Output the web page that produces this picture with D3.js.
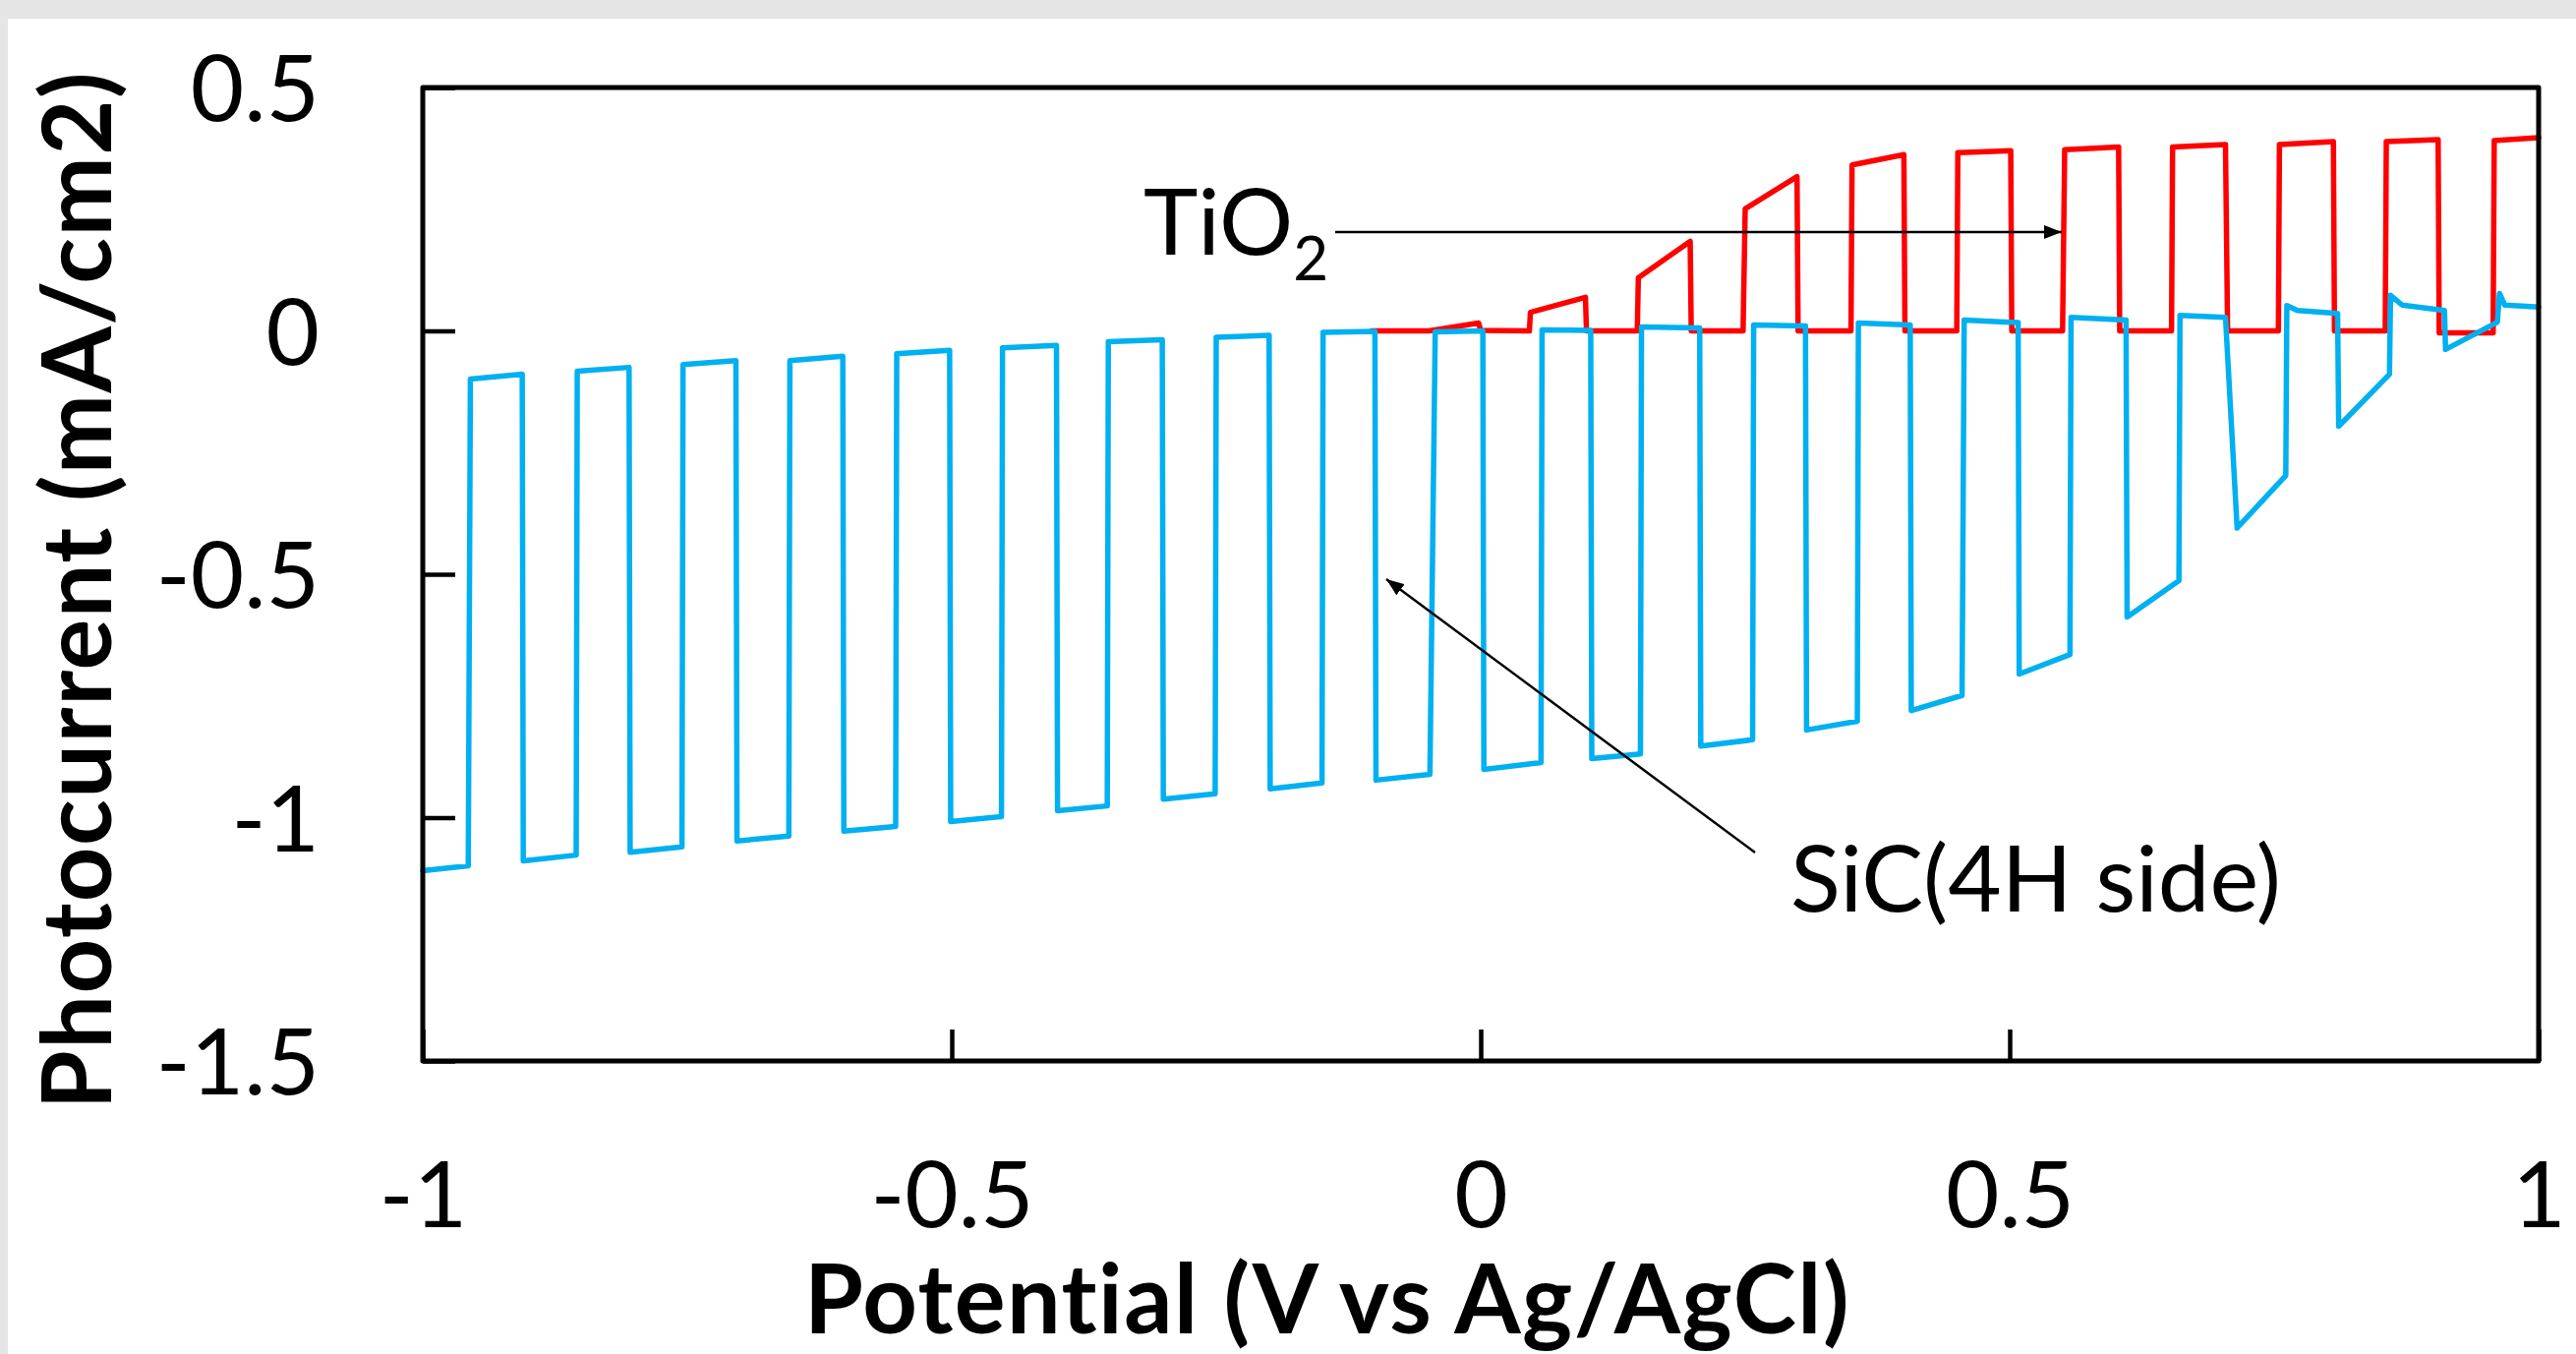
<!DOCTYPE html>
<html>
<head>
  <title>Photocurrent vs Potential</title>
  <script src="https://d3js.org/d3.v7.min.js"></script>
  <style>
    body { margin: 0; background: #e5e5e5; }
    svg { display: block; }
  </style>
</head>
<body>
  <div id="chart"></div>

  <script>
    // axis ticks
    const xTicks = [-1, -0.5, 0, 0.5, 1];
    const xTickLabels = ['-1', '-0.5', '0', '0.5', '1'];
    const yTicks = [0.5, 0, -0.5, -1, -1.5];
    const yTickLabels = ['0.5', '0', '-0.5', '-1', '-1.5'];

    // TiO2 trace (potential in V, current in mA/cm2)
    const tio2V = [-0.103, -0.049, -0.002, 0.000, 0.046, 0.047, 0.099, 0.100, 0.148, 0.149, 0.198, 0.199,
      0.248, 0.250, 0.299, 0.300, 0.350, 0.351, 0.400, 0.401, 0.450, 0.451, 0.501, 0.502, 0.550, 0.552,
      0.603, 0.604, 0.653, 0.654, 0.704, 0.706, 0.754, 0.755, 0.806, 0.807, 0.855, 0.856, 0.905, 0.906,
      0.957, 0.958, 1.000];
    const tio2J = [0.000, 0.000, 0.016, 0.001, 0.000, 0.038, 0.069, 0.000, 0.000, 0.109, 0.184, 0.000,
      0.000, 0.251, 0.317, 0.000, 0.000, 0.341, 0.362, 0.000, 0.000, 0.366, 0.370, 0.000, 0.000, 0.372,
      0.378, 0.000, 0.000, 0.378, 0.383, 0.000, 0.000, 0.383, 0.389, 0.000, 0.000, 0.389, 0.393, -0.004,
      -0.004, 0.391, 0.397];

    // SiC (4H side) trace
    const sicV = [-1.000, -0.957, -0.955, -0.906, -0.905, -0.855, -0.854, -0.805, -0.804, -0.755, -0.754,
      -0.704, -0.703, -0.654, -0.653, -0.603, -0.602, -0.553, -0.552, -0.502, -0.501, -0.453, -0.452,
      -0.401, -0.400, -0.353, -0.352, -0.301, -0.300, -0.251, -0.250, -0.200, -0.199, -0.150, -0.149,
      -0.100, -0.099, -0.048, -0.043, 0.002, 0.003, 0.057, 0.058, 0.104, 0.105, 0.151, 0.152, 0.207,
      0.208, 0.257, 0.258, 0.307, 0.308, 0.356, 0.357, 0.406, 0.407, 0.455, 0.457, 0.508, 0.509, 0.557,
      0.558, 0.610, 0.611, 0.660, 0.661, 0.704, 0.715, 0.761, 0.762, 0.772, 0.810, 0.811, 0.859, 0.860,
      0.871, 0.911, 0.912, 0.961, 0.963, 0.968, 1.000];
    const sicJ = [-1.109, -1.099, -0.099, -0.089, -1.089, -1.077, -0.083, -0.075, -1.071, -1.060, -0.069,
      -0.061, -1.048, -1.038, -0.061, -0.052, -1.028, -1.018, -0.047, -0.040, -1.008, -0.998, -0.035,
      -0.030, -0.986, -0.976, -0.022, -0.018, -0.962, -0.951, -0.013, -0.009, -0.941, -0.929, -0.003,
      -0.001, -0.923, -0.911, -0.002, 0.000, -0.901, -0.887, 0.002, 0.001, -0.879, -0.869, 0.008, 0.006,
      -0.853, -0.840, 0.012, 0.010, -0.820, -0.802, 0.016, 0.012, -0.780, -0.749, 0.022, 0.017, -0.705,
      -0.665, 0.028, 0.022, -0.588, -0.513, 0.032, 0.028, -0.405, -0.297, 0.052, 0.042, 0.036, -0.196,
      -0.089, 0.073, 0.053, 0.042, -0.038, 0.018, 0.077, 0.053, 0.049];

    const width = 2620;
    const height = 1377;
    const font = 'Lato, "Open Sans", sans-serif';

    const svg = d3.select('#chart')
      .append('svg')
      .attr('width', width)
      .attr('height', height);

    // white chart area with the grey strip at top/left
    svg.append('rect')
      .attr('x', 8).attr('y', 19)
      .attr('width', width - 8).attr('height', height - 19)
      .attr('fill', '#fff');

    const x = d3.scaleLinear().domain([-1, 1]).range([430, 2582]);
    const y = d3.scaleLinear().domain([-1.5, 0.5]).range([1079, 89]);

    // arrow head
    svg.append('defs').append('marker')
      .attr('id', 'arrow')
      .attr('markerUnits', 'userSpaceOnUse')
      .attr('viewBox', '0 0 18 14')
      .attr('refX', 18).attr('refY', 7)
      .attr('markerWidth', 18).attr('markerHeight', 14)
      .attr('orient', 'auto')
      .append('path')
      .attr('d', 'M0,0 L18,7 L0,14 Z')
      .attr('fill', '#000');

    // x axis, ticks inside
    const xAxis = svg.append('g')
      .attr('transform', `translate(0, ${y(-1.5)})`)
      .call(d3.axisBottom(x).tickValues(xTicks)
        .tickFormat((d, i) => xTickLabels[i])
        .tickSizeInner(-32).tickSizeOuter(0).tickPadding(102));

    // y axis, ticks inside
    const yAxis = svg.append('g')
      .attr('transform', `translate(${x(-1)}, 0)`)
      .call(d3.axisLeft(y).tickValues(yTicks)
        .tickFormat((d, i) => yTickLabels[i])
        .tickSizeInner(-33).tickSizeOuter(0).tickPadding(105));

    [xAxis, yAxis].forEach(g => {
      g.select('.domain').remove();
      g.selectAll('.tick line').attr('stroke', '#000').attr('stroke-width', 4.5);
      g.selectAll('.tick text')
        .attr('fill', '#000')
        .style('font-family', font)
        .style('font-size', '94px');
    });
    yAxis.selectAll('.tick text').attr('dy', '0.36em');

    // data lines
    const line = d3.line()
      .x(d => x(d[0]))
      .y(d => y(d[1]));

    svg.append('path')
      .datum(d3.zip(tio2V, tio2J))
      .attr('d', line)
      .attr('fill', 'none')
      .attr('stroke', '#ff0000')
      .attr('stroke-width', 5.5)
      .attr('stroke-linejoin', 'round')
      .attr('stroke-linecap', 'round');

    svg.append('path')
      .datum(d3.zip(sicV, sicJ))
      .attr('d', line)
      .attr('fill', 'none')
      .attr('stroke', '#00b0f0')
      .attr('stroke-width', 5.5)
      .attr('stroke-linejoin', 'round')
      .attr('stroke-linecap', 'round');

    // plot frame
    svg.append('rect')
      .attr('x', x(-1)).attr('y', y(0.5))
      .attr('width', x(1) - x(-1)).attr('height', y(-1.5) - y(0.5))
      .attr('fill', 'none')
      .attr('stroke', '#000')
      .attr('stroke-width', 5)
      .attr('stroke-linejoin', 'round');

    // annotations
    const tio2Label = svg.append('text')
      .attr('x', 1163).attr('y', 259)
      .style('font-family', font)
      .style('font-size', '94px')
      .text('TiO');
    tio2Label.append('tspan')
      .attr('dy', 26)
      .style('font-size', '62px')
      .text('2');

    svg.append('line')
      .attr('x1', 1358).attr('y1', 236)
      .attr('x2', 2097).attr('y2', 236)
      .attr('stroke', '#000')
      .attr('stroke-width', 2.5)
      .attr('marker-end', 'url(#arrow)');

    svg.append('text')
      .attr('x', 1821).attr('y', 927)
      .style('font-family', font)
      .style('font-size', '94px')
      .text('SiC(4H side)');

    svg.append('line')
      .attr('x1', 1785).attr('y1', 867)
      .attr('x2', 1410).attr('y2', 589)
      .attr('stroke', '#000')
      .attr('stroke-width', 2.5)
      .attr('marker-end', 'url(#arrow)');

    // axis titles
    svg.append('text')
      .attr('x', 1350).attr('y', 1356)
      .attr('text-anchor', 'middle')
      .style('font-family', font)
      .style('font-size', '97px')
      .style('font-weight', 'bold')
      .style('letter-spacing', '1.5px')
      .text('Potential (V vs Ag/AgCl)');

    svg.append('text')
      .attr('transform', 'translate(113, 600) rotate(-90)')
      .attr('text-anchor', 'middle')
      .style('font-family', font)
      .style('font-size', '97px')
      .style('font-weight', 'bold')
      .style('letter-spacing', '1.5px')
      .text('Photocurrent (mA/cm2)');
  </script>
</body>
</html>
